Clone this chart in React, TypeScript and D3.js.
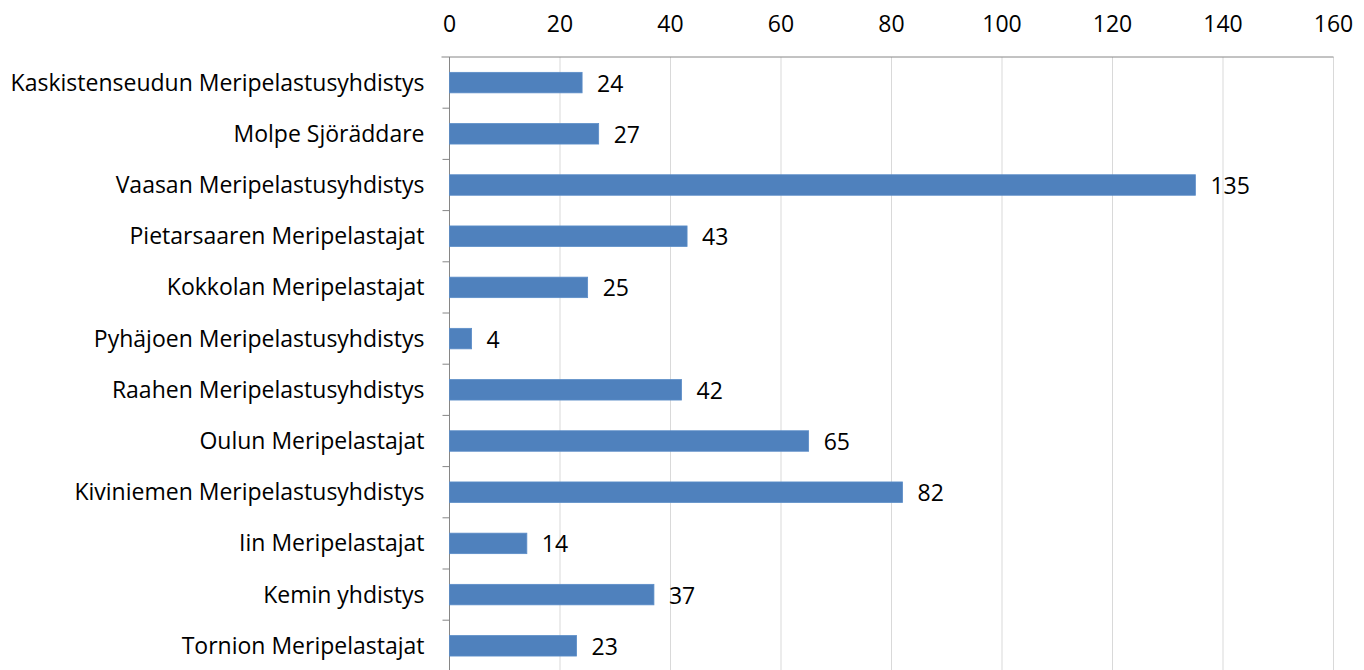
import React, { useEffect, useRef } from "react";
import * as d3 from "d3";

const categories = [
  "Kaskistenseudun Meripelastusyhdistys",
  "Molpe Sjöräddare",
  "Vaasan Meripelastusyhdistys",
  "Pietarsaaren Meripelastajat",
  "Kokkolan Meripelastajat",
  "Pyhäjoen Meripelastusyhdistys",
  "Raahen Meripelastusyhdistys",
  "Oulun Meripelastajat",
  "Kiviniemen Meripelastusyhdistys",
  "Iin Meripelastajat",
  "Kemin yhdistys",
  "Tornion Meripelastajat",
];
const values = [24, 27, 135, 43, 25, 4, 42, 65, 82, 14, 37, 23];
const xTicks = [0, 20, 40, 60, 80, 100, 120, 140, 160];

const W = 1364;
const H = 670;
const FONT = "'Open Sans', sans-serif";
const FS = 23;

export default function App() {
  const ref = useRef<SVGSVGElement>(null);
  useEffect(() => {
    const svg = d3.select(ref.current);
    svg.selectAll("*").remove();
    const x0 = 449.5, x1 = 1333.5, y0 = 57, y1 = 57 + 12 * 51.2;
    const x = d3.scaleLinear().domain([0, 160]).range([x0, x1]);
    const yb = d3.scaleBand<string>().domain(categories).range([y0, y1]);

    // gridlines
    svg.append("g").selectAll("line").data(xTicks.slice(1)).join("line")
      .attr("x1", d => x(d)).attr("x2", d => x(d))
      .attr("y1", y0).attr("y2", y1)
      .attr("stroke", "#D9D9D9").attr("stroke-width", 1);
    // top axis line
    svg.append("line").attr("x1", x0 - 8).attr("x2", x1).attr("y1", y0).attr("y2", y0)
      .attr("stroke", "#868686").attr("stroke-width", 1);
    // y axis
    svg.append("line").attr("x1", x0).attr("x2", x0).attr("y1", y0).attr("y2", y1)
      .attr("stroke", "#868686").attr("stroke-width", 1);
    svg.append("g").selectAll("line").data(categories.slice(1)).join("line")
      .attr("x1", x0 - 7).attr("x2", x0)
      .attr("y1", d => yb(d)!).attr("y2", d => yb(d)!)
      .attr("stroke", "#868686").attr("stroke-width", 1);

    // tick labels
    svg.append("g").selectAll("text").data(xTicks).join("text")
      .attr("x", d => x(d)).attr("y", 24).attr("dy", "0.35em")
      .attr("text-anchor", "middle").attr("font-family", FONT).attr("font-size", FS)
      .attr("fill", "#000").text(d => d);

    // category labels
    svg.append("g").selectAll("text").data(categories).join("text")
      .attr("x", x0 - 25).attr("y", d => yb(d)! + yb.bandwidth() / 2).attr("dy", "0.35em")
      .attr("text-anchor", "end").attr("font-family", FONT).attr("font-size", FS)
      .attr("fill", "#000").text(d => d);

    // bars
    svg.append("g").selectAll("rect").data(values).join("rect")
      .attr("x", x(0)).attr("y", (d, i) => yb(categories[i])! + (yb.bandwidth() - 20.5) / 2)
      .attr("width", d => x(d) - x(0)).attr("height", 20.5)
      .attr("fill", "#4F81BD").attr("stroke", "#5B8DC8").attr("stroke-width", 0.8);

    // value labels
    svg.append("g").selectAll("text").data(values).join("text")
      .attr("x", d => x(d) + 15).attr("y", (d, i) => yb(categories[i])! + yb.bandwidth() / 2 + 1).attr("dy", "0.35em")
      .attr("text-anchor", "start").attr("font-family", FONT).attr("font-size", FS)
      .attr("fill", "#000").text(d => d);
  }, []);
  return (
    <svg ref={ref} width={W} height={H} style={{ position: "absolute", left: 0, top: 0, background: "#fff" }} />
  );
}
